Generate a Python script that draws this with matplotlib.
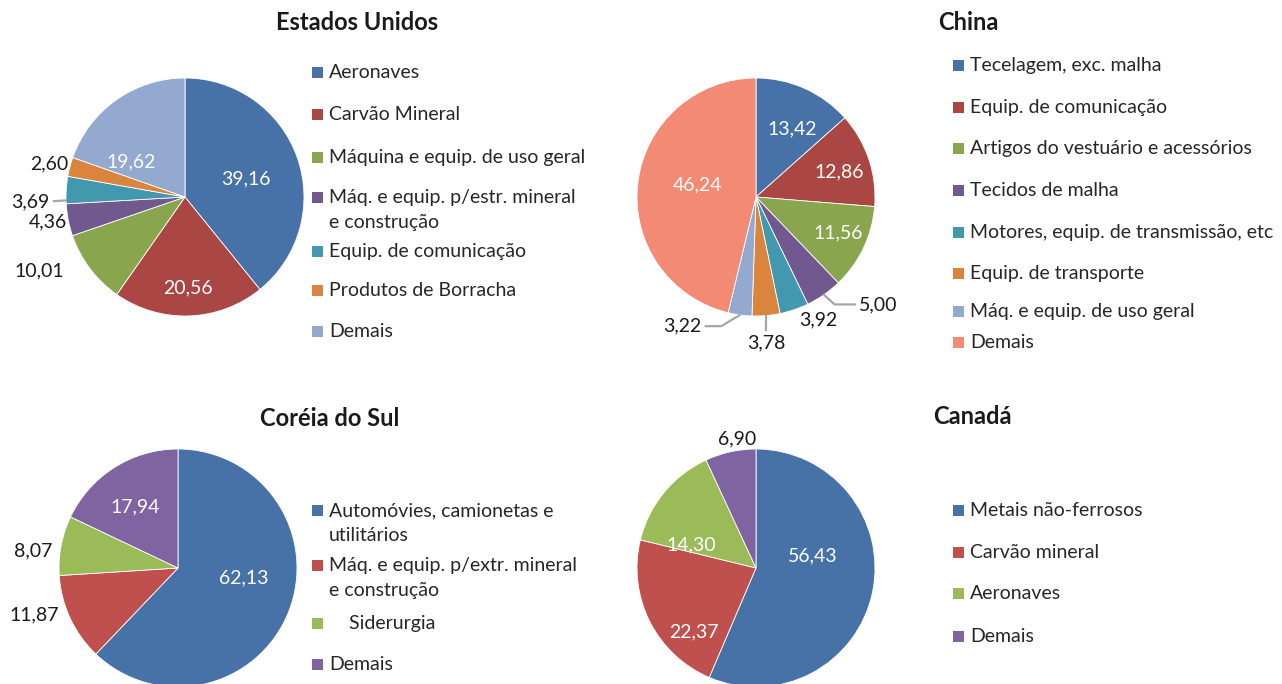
import matplotlib
matplotlib.use('Agg')
import numpy as np
import matplotlib.pyplot as plt
from matplotlib.patches import Rectangle

plt.rcParams['font.family'] = ['Lato', 'DejaVu Sans']

# ---- data ----
us_labels = ['Aeronaves', 'Carvão Mineral', 'Máquina e equip. de uso geral',
             'Máq. e equip. p/estr. mineral\ne construção', 'Equip. de comunicação',
             'Produtos de Borracha', 'Demais']
us_values = [39.16, 20.56, 10.01, 4.36, 3.69, 2.60, 19.62]

cn_labels = ['Tecelagem, exc. malha', 'Equip. de comunicação',
             'Artigos do vestuário e acessórios', 'Tecidos de malha',
             'Motores, equip. de transmissão, etc', 'Equip. de transporte',
             'Máq. e equip. de uso geral', 'Demais']
cn_values = [13.42, 12.86, 11.56, 5.00, 3.92, 3.78, 3.22, 46.24]

kr_labels = ['Automóvies, camionetas e\nutilitários',
             'Máq. e equip. p/extr. mineral\ne construção',
             '    Siderurgia', 'Demais']
kr_values = [62.13, 11.87, 8.07, 17.94]

ca_labels = ['Metais não-ferrosos', 'Carvão mineral', 'Aeronaves', 'Demais']
ca_values = [56.43, 22.37, 14.30, 6.90]

# ---- colours ----
c2010 = ['#4672A8', '#AA4643', '#89A54E', '#71588F', '#4198AF', '#DB843D', '#93A9CF']
c2007 = ['#4672A8', '#C0504D', '#9BBB59', '#8064A2']
us_colors = c2010
cn_colors = c2010 + ['#F28A74']

W, H = 1282, 684
R = 119  # pie radius in px
FS = 14

charts = [
    dict(title='Estados Unidos', labels=us_labels, values=us_values, colors=us_colors,
         center=(185, 197), title_xy=(357, 22), leg_x=312,
         leg_rows=[72, 114, 157, 197, 251, 290, 331],
         lab_r=[0.53, 0.76, 1.37, 1.17, 1.30, 1.17, 0.54],
         lab_nudge=[-3, 0, -10, -1, 5, 1, 22],
         leaders={4: ((1, 0.5), 'arc3', 5)}),
    dict(title='China', labels=cn_labels, values=cn_values, colors=cn_colors,
         center=(756, 197), title_xy=(968, 22), leg_x=953,
         leg_rows=[65, 107, 148, 190, 232, 273, 311, 342],
         lab_r=[0.65, 0.73, 0.75, 1.37, 1.16, 1.23, 1.25, 0.50],
         lab_nudge=[-4, -2, 2, 14, 8, -1, -22, -5],
         leaders={3: ((0, 0.5), 'angle,angleA=0,angleB=-42', 0),
                  5: ((0.5, 1), 'arc3', 0),
                  6: ((1, 0.5), 'angle,angleA=0,angleB=31', 0)}),
    dict(title='Coréia do Sul', labels=kr_labels, values=kr_values, colors=c2007,
         center=(178, 568), title_xy=(330, 418), leg_x=312,
         leg_rows=[510, 565, 623, 664],
         lab_r=[0.56, 1.27, 1.23, 0.63],
         lab_nudge=[13, -7, 4, 3],
         leaders={}),
    dict(title='Canadá', labels=ca_labels, values=ca_values, colors=c2007,
         center=(756, 568), title_xy=(972, 416), leg_x=953,
         leg_rows=[510, 552, 593, 636],
         lab_r=[0.49, 0.75, 0.58, 1.10],
         lab_nudge=[24, 19, 20, -4],
         leaders={}),
]

fig = plt.figure(figsize=(W / 100, H / 100), dpi=100)

for ch in charts:
    cx, cy = ch['center']
    ax = fig.add_axes([(cx - R) / W, (H - cy - R) / H, 2 * R / W, 2 * R / H])
    wedges, _ = ax.pie(ch['values'], colors=ch['colors'], startangle=90,
                       counterclock=False, radius=1,
                       wedgeprops=dict(edgecolor='white', linewidth=0.6))
    ax.set_xlim(-1, 1)
    ax.set_ylim(-1, 1)
    ax.axis('off')

    for i, (w, v) in enumerate(zip(wedges, ch['values'])):
        mid = (w.theta1 + w.theta2) / 2
        ang = np.deg2rad(mid + ch['lab_nudge'][i])
        r = ch['lab_r'][i]
        txt = f'{v:.2f}'.replace('.', ',')
        col = 'white' if r < 1 else '#1a1a1a'
        pos = (r * np.cos(ang), r * np.sin(ang))
        if i in ch['leaders']:
            relpos, cstyle, lnudge = ch['leaders'][i]
            la = np.deg2rad(mid + lnudge)
            ax.annotate(txt, xy=(np.cos(la), np.sin(la)), xytext=pos,
                        ha='center', va='center', fontsize=FS, color=col,
                        annotation_clip=False,
                        arrowprops=dict(arrowstyle='-', color='#A6A6A6', lw=1.6,
                                        relpos=relpos, connectionstyle=cstyle,
                                        shrinkA=1, shrinkB=0))
        else:
            ax.text(pos[0], pos[1], txt, ha='center', va='center',
                    fontsize=FS, color=col, clip_on=False)

    tx, ty = ch['title_xy']
    fig.text(tx / W, 1 - ty / H, ch['title'], ha='center', va='center',
             fontsize=17, fontweight='bold', color='#1a1a1a')

    # legend
    for lab, col, ry in zip(ch['labels'], ch['colors'], ch['leg_rows']):
        fig.patches.append(Rectangle((ch['leg_x'] / W, 1 - (ry + 6) / H), 11 / W, 11 / H,
                                     transform=fig.transFigure, facecolor=col,
                                     edgecolor='none'))
        fig.text((ch['leg_x'] + 17) / W, 1 - (ry - 8) / H, lab, ha='left',
                 va='top', fontsize=FS, color='#262626', linespacing=1.6)

fig.savefig('out.png', dpi=100)
